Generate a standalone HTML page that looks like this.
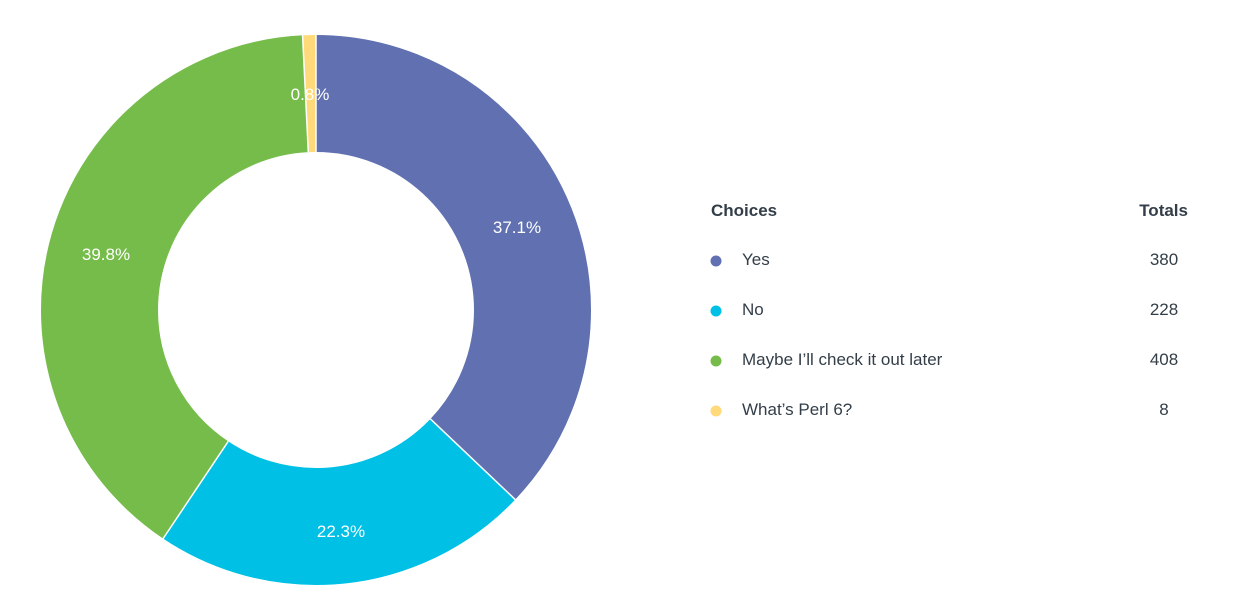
<!DOCTYPE html>
<html><head><meta charset="utf-8"><style>
body{margin:0;background:#fff;width:1249px;height:616px;overflow:hidden;font-family:"Liberation Sans",sans-serif;}
svg{position:absolute;left:0;top:0}
</style></head><body>
<svg width="1249" height="616" xmlns="http://www.w3.org/2000/svg">
<g transform="rotate(-90 316 310)" fill="none" stroke-width="117">
<circle cx="316" cy="310" r="216.5" stroke="#6070b0" stroke-dasharray="504.8 2000" stroke-dashoffset="0"/>
<circle cx="316" cy="310" r="216.5" stroke="#00c0e6" stroke-dasharray="302.9 2000" stroke-dashoffset="-504.8"/>
<circle cx="316" cy="310" r="216.5" stroke="#76bc4a" stroke-dasharray="542.0 2000" stroke-dashoffset="-807.7"/>
<circle cx="316" cy="310" r="216.5" stroke="#ffd97a" stroke-dasharray="10.7 2000" stroke-dashoffset="-1349.7"/>
</g>
<g stroke="#fff" stroke-width="1.5">
<line x1="316" y1="152" x2="316" y2="34"/>
<line x1="430.4" y1="418.9" x2="516" y2="500.3"/>
<line x1="228.2" y1="441.4" x2="162.5" y2="539.5"/>
<line x1="308.3" y1="152.2" x2="302.5" y2="34"/>
</g>
<g fill="#fff" font-size="17" text-anchor="middle">
<text x="517" y="233">37.1%</text>
<text x="341" y="537">22.3%</text>
<text x="106" y="260">39.8%</text>
<text x="310" y="100">0.8%</text>
</g>
<g fill="#333e48" font-size="17">
<text x="711" y="216" font-weight="bold">Choices</text>
<text x="1188" y="216" font-weight="bold" text-anchor="end">Totals</text>
<text x="742" y="265">Yes</text>
<text x="742" y="315">No</text>
<text x="742" y="365">Maybe I’ll check it out later</text>
<text x="742" y="415">What’s Perl 6?</text>
<g text-anchor="middle">
<text x="1164" y="265">380</text>
<text x="1164" y="315">228</text>
<text x="1164" y="365">408</text>
<text x="1164" y="415">8</text>
</g>
</g>
<circle cx="716" cy="261" r="5.5" fill="#6070b0"/>
<circle cx="716" cy="311" r="5.5" fill="#00c0e6"/>
<circle cx="716" cy="361" r="5.5" fill="#76bc4a"/>
<circle cx="716" cy="411" r="5.5" fill="#ffd97a"/>
</svg>
</body></html>
